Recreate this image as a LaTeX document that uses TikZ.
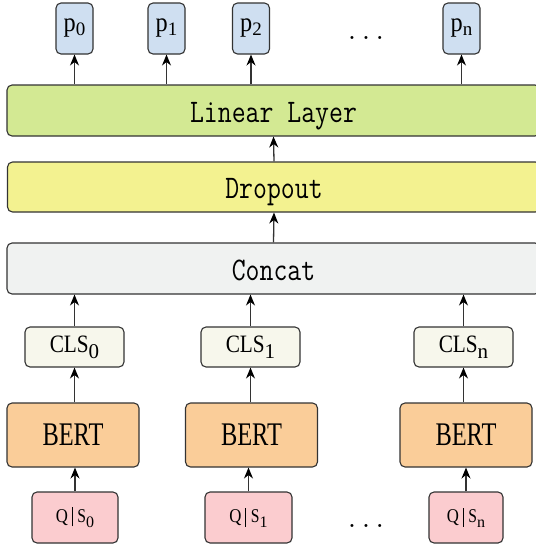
\documentclass[tikz,border=0pt]{standalone}
\usepackage{fontspec}
\usepackage{graphicx}
\usetikzlibrary{arrows.meta}

\newfontfamily\labelfont{Liberation Serif}

\definecolor{pblue}{HTML}{CFDFF1}
\definecolor{lingreen}{HTML}{D3E993}
\definecolor{dropyellow}{HTML}{F3F290}
\definecolor{concatgray}{HTML}{F0F2F1}
\definecolor{clscream}{HTML}{F7F7EC}
\definecolor{bertorange}{HTML}{FACD99}
\definecolor{qspink}{HTML}{FBCCCF}
\definecolor{edgegray}{HTML}{333333}

% horizontally condensed text
\newcommand\narrow[2]{\scalebox{#1}[1]{#2}}
% lowered index: size, drop, text
\newcommand\idx[3]{\raisebox{-#2}{\fontsize{#1}{#1}\selectfont #3}}
% tall typewriter text for the shared layers
\newcommand\layertext[1]{\scalebox{1}[1.22]{\fontsize{27}{27}\ttfamily #1}}

\tikzset{
  box/.style={draw=edgegray, line width=1.1pt, rounded corners=5pt,
              inner sep=0pt, anchor=center},
  outbox/.style={box, fill=pblue, minimum width=37pt, minimum height=51pt},
  layerbox/.style={box, minimum width=533pt, minimum height=51pt,
                   text height=23pt, text depth=0pt},
  clsbox/.style={box, fill=clscream, minimum width=99pt, minimum height=40pt},
  bertbox/.style={box, fill=bertorange, minimum width=132pt, minimum height=64pt},
  qsbox/.style={box, fill=qspink, minimum height=51pt},
  dots/.style={inner sep=0pt, font=\fontsize{27}{27}\ttfamily},
  arr/.style={draw=edgegray, line width=1.3pt,
              -{Stealth[length=11pt,width=9pt,color=black]}},
}

\newcommand\ptext[1]{\labelfont\narrow{0.9}{\fontsize{27}{27}\selectfont p}\idx{19}{4pt}{#1}}
\newcommand\clstext[1]{\labelfont\narrow{0.85}{\fontsize{25}{25}\selectfont CLS}\idx{21}{6pt}{#1}}
\newcommand\berttext{\labelfont\narrow{0.74}{\fontsize{33}{33}\selectfont BERT}}
\newcommand\qstext[1]{\labelfont\narrow{0.86}{\fontsize{19.5}{19.5}\selectfont Q}\hspace{3.5pt}\rule[-4pt]{0.9pt}{19pt}\hspace{5pt}\narrow{0.8}{\fontsize{19.5}{19.5}\selectfont S}\idx{16}{5pt}{#1}}

\begin{document}
\begin{tikzpicture}[x=1pt, y=-1pt]
  \useasboundingbox (0,0) rectangle (536,547);
  \fill[white] (0,0) rectangle (536,547);

  % output probabilities
  \node[outbox] (p0) at (74.5,28.5) {\ptext{0}};
  \node[outbox] (p1) at (166.5,28.5) {\ptext{1}};
  \node[outbox] (p2) at (251,28.5) {\ptext{2}};
  \node[outbox] (pn) at (461.5,28.5) {\ptext{n}};
  \node[dots] (topdots) at (366,37.5) {...};

  % shared layers
  \node[layerbox, fill=lingreen] (lin) at (273.5,110.5) {\layertext{Linear Layer}};
  \node[layerbox, fill=dropyellow, minimum height=50pt] (drop) at (274,187) {\layertext{Dropout}};
  \node[layerbox, fill=concatgray] (cat) at (273.5,268.5) {\layertext{Concat}};

  % [CLS] vectors
  \node[clsbox] (cls0) at (74.5,347) {\clstext{0}};
  \node[clsbox] (cls1) at (250.5,347) {\clstext{1}};
  \node[clsbox] (clsn) at (463.5,347) {\clstext{n}};

  % encoders
  \node[bertbox] (bert0) at (73,435) {\berttext};
  \node[bertbox] (bert1) at (251.5,435) {\berttext};
  \node[bertbox] (bertn) at (466,435) {\berttext};

  % question / sentence pairs
  \node[qsbox, minimum width=86pt] (qs0) at (75,517.5) {\qstext{0}};
  \node[qsbox, minimum width=87pt] (qs1) at (248.5,517.5) {\qstext{1}};
  \node[qsbox, minimum width=74pt] (qsn) at (466,517.5) {\qstext{n}};
  \node[dots] (botdots) at (366,525.5) {...};

  % connectors
  \foreach \q/\b in {qs0/bert0, qs1/bert1, qsn/bertn}
    \draw[arr] (\q.north) -- (\q.north |- \b.south);
  \foreach \b/\c in {bert0/cls0, bert1/cls1, bertn/clsn}
    \draw[arr] (\b.north -| \c.south) -- (\c.south);
  \foreach \c in {cls0, cls1, clsn}
    \draw[arr] (\c.north) -- (\c.north |- cat.south);
  \draw[arr] (cat.north) -- (drop.south);
  \draw[arr] (drop.north) -- (lin.south);
  \foreach \p in {p0, p1, p2, pn}
    \draw[arr] (\p.south |- lin.north) -- (\p.south);
\end{tikzpicture}
\end{document}
